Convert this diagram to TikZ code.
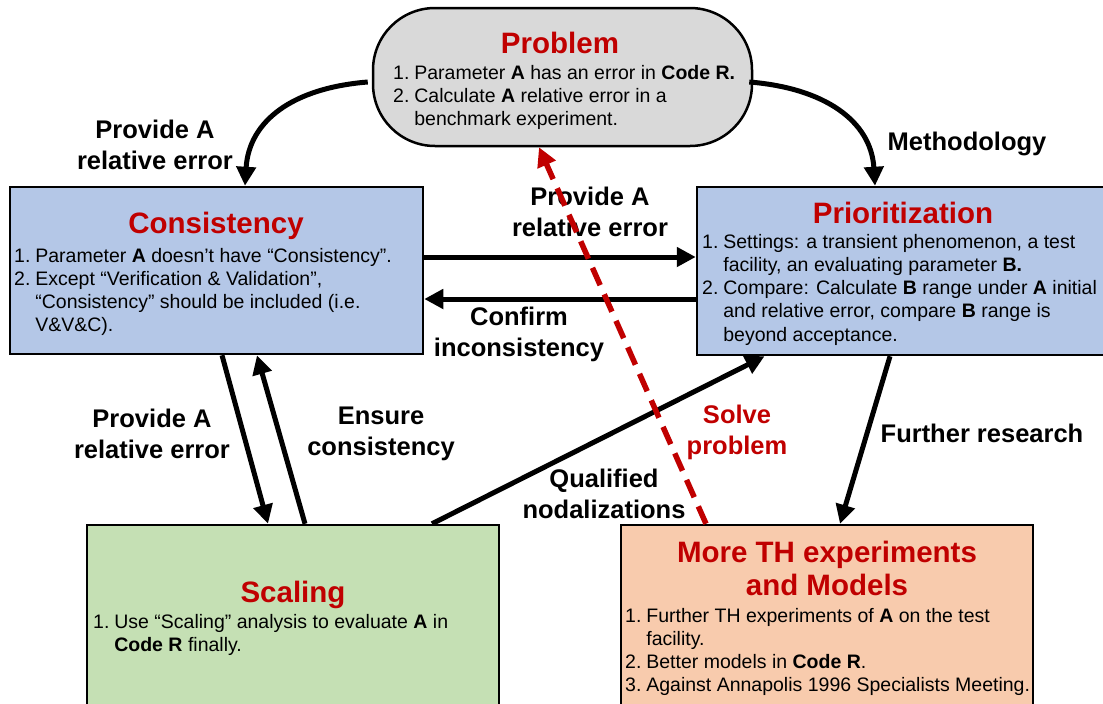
\documentclass[tikz,border=0pt]{standalone}
\usepackage{fontspec}
\setmainfont{Liberation Sans}
\usetikzlibrary{arrows.meta,calc}
\definecolor{tred}{HTML}{C00000}
\definecolor{pgray}{HTML}{D9D9D9}
\definecolor{pblue}{HTML}{B4C7E7}
\definecolor{pgreen}{HTML}{C5E0B4}
\definecolor{porange}{HTML}{F8CBAD}
\tikzset{
  box/.style={draw=black, line width=2.5pt, inner sep=0pt},
  arr/.style={line width=5pt, -{Triangle[length=19pt,width=19pt]}},
  redarr/.style={line width=5.5pt, draw=tred, dash pattern=on 19pt off 10pt, -{Triangle[length=19pt,width=19pt]}},
  lbl/.style={font=\fontsize{25.5}{31}\selectfont\bfseries, align=center, inner sep=0pt},
  ttl/.style={font=\fontsize{29.5}{33}\selectfont\bfseries, text=tred, anchor=base, inner sep=0pt},
  body/.style={font=\fontsize{19.5}{23.3}\selectfont, anchor=base west, inner sep=0pt}
}
\newcommand{\lst}[1]{\begin{tabular}[t]{@{}l@{\hspace{0.25em}}l@{}}#1\end{tabular}}
\begin{document}
\begin{tikzpicture}[x=1pt,y=-1pt]
\useasboundingbox (0,0) rectangle (1103,704);
\clip (0,0) rectangle (1103,704);

% boxes
\node[box, fill=pgray, rounded corners=62pt, minimum width=379pt, minimum height=138pt] (prob) at (562.5,77) {};
\node[box, fill=pblue, minimum width=413pt, minimum height=167pt] (cons) at (216.5,270.5) {};
\node[box, fill=pblue, minimum width=409pt, minimum height=168pt] (prio) at (901.5,271) {};
\node[box, fill=pgreen, minimum width=412pt, minimum height=183pt] (scal) at (293,616.5) {};
\node[box, fill=porange, minimum width=412pt, minimum height=183pt] (more) at (827,616.5) {};

% titles and texts
\node[ttl] (probttl) at (560,53) {Problem};
\node[body] (probtxt) at (393,79) {\lst{1. & Parameter \textbf{A} has an error in \textbf{Code R.}\\
2. & Calculate \textbf{A} relative error in a\\
 & benchmark experiment.}};

\node[ttl] (consttl) at (216,233) {Consistency};
\node[body] (constxt) at (14,262) {\lst{1. & Parameter \textbf{A} doesn’t have “Consistency”.\\
2. & Except “Verification \& Validation”,\\
 & “Consistency” should be included (i.e.\\
 & V\&V\&C).}};

\node[ttl] (prittl) at (903,223) {Prioritization};
\node[body] (pritxt) at (702,248) {\lst{1. & Settings: a transient phenomenon, a test\\
 & facility, an evaluating parameter \textbf{B.}\\
2. & Compare: Calculate \textbf{B} range under \textbf{A} initial\\
 & and relative error, compare \textbf{B} range is\\
 & beyond acceptance.}};

\node[ttl] (scalttl) at (293,602) {Scaling};
\node[body] (scaltxt) at (93,628) {\lst{1. & Use “Scaling” analysis to evaluate \textbf{A} in\\
 & \textbf{Code R} finally.}};

\node[ttl] (morettl) at (827,562) {More TH experiments};
\node[ttl] (morettlb) at (827,595) {and Models};
\node[body] (moretxt) at (625,622) {\lst{1. & Further TH experiments of \textbf{A} on the test\\
 & facility.\\
2. & Better models in \textbf{Code R}.\\
3. & Against Annapolis 1996 Specialists Meeting.}};

% labels
\node[lbl] (l1) at (155,145) {Provide A\\relative error};
\node[lbl] (l2) at (967,144) {Methodology};
\node[lbl] (l3) at (590,212) {Provide A\\relative error};
\node[lbl] (l4) at (519,334) {Confirm\\inconsistency};
\node[lbl] (l5) at (152,434) {Provide A\\relative error};
\node[lbl] (l6) at (381,434) {Ensure\\consistency};
\node[lbl] (l7) at (604,494) {Qualified\\nodalizations};
\node[lbl, text=tred] (l8) at (737,432) {Solve\\problem};
\node[lbl] (l9) at (982,433) {Further research};

% connectors
\draw[arr] ($(prob.west)+(-4,5)$) .. controls +(-75,6) and +(4,-65) .. ($(cons.north)+(28.5,0)$);
\draw[arr] ($(prob.east)+(-4,5)$) .. controls +(75,6) and +(-4,-65) .. ($(prio.north)+(-26.5,0)$);
\draw[arr] ($(cons.east)+(0,-13.5)$) -- ($(prio.west)+(0,-14)$);
\draw[arr] ($(prio.west)+(0,28)$) -- ($(cons.east)+(0,28.5)$);
\draw[arr] ($(cons.south)+(5.5,0)$) -- ($(scal.north)+(-25,0)$);
\draw[arr] ($(scal.north)+(12,0)$) -- ($(cons.south)+(40.5,0)$);
\draw[arr] ($(scal.north)+(139,0)$) -- ($(prio.south)+(-137,0)$);
\draw[arr] ($(prio.south)+(-11.5,0)$) -- ($(more.north)+(13,0)$);
\draw[redarr] ($(more.north)+(-121,0)$) -- ($(prob.south)+(-23.5,0)$);
\end{tikzpicture}
\end{document}
